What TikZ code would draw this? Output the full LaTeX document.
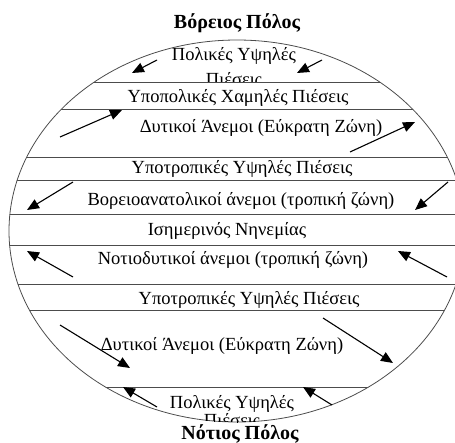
\documentclass[tikz,border=0pt]{standalone}
\usepackage{fontspec}
\setmainfont{Liberation Serif}
\usetikzlibrary{arrows.meta}

\begin{document}
\begin{tikzpicture}[x=1pt,y=-1pt]
            \tikzset{
                zone/.style={font=\fontsize{18.5}{20}\selectfont, inner sep=0pt, anchor=base},
                pole/.style={font=\bfseries\fontsize{20}{22}\selectfont, inner sep=0pt, anchor=base},
                band/.style={draw=black!70, line width=0.8pt},
                wind/.style={-{Triangle[length=12pt,width=10pt]}, line width=1.1pt}
            }
            \useasboundingbox (0,0) rectangle (455,443);
            % globe and zone borders
            \draw[band] (237,231) ellipse [x radius=228, y radius=191];
            \begin{scope}
                \clip (237,231) ellipse [x radius=228, y radius=191];
                \foreach \y in {82,109,157,180,214,245,284,310,387}
                    \draw[band] (0,\y) -- (455,\y);
                \node[zone] (polarSb) at (232,426) {Πιέσεις};
            \end{scope}
            \begin{scope}
                \clip (0,0) rectangle (455,82);
                \node[zone] (polarNb) at (234,86) {Πιέσεις};
            \end{scope}

            % zones
            \node[pole] (northpole) at (237,29) {Βόρειος Πόλος};
            \node[zone] (polarN) at (234,61) {Πολικές Υψηλές};
            \node[zone] (subpolarN) at (238,103) {Υποπολικές Χαμηλές Πιέσεις};
            \node[zone] (westN) at (261,133) {Δυτικοί Άνεμοι (Εύκρατη Ζώνη)};
            \node[zone] (subtropN) at (242,174) {Υποτροπικές Υψηλές Πιέσεις};
            \node[zone] (tradeN) at (241,206) {Βορειοανατολικοί άνεμοι (τροπική ζώνη)};
            \node[zone] (doldrums) at (227,236) {Ισημερινός Νηνεμίας};
            \node[zone] (tradeS) at (233,265) {Νοτιοδυτικοί άνεμοι (τροπική ζώνη)};
            \node[zone] (subtropS) at (249,305) {Υποτροπικές Υψηλές Πιέσεις};
            \node[zone] (westS) at (222,351) {Δυτικοί Άνεμοι (Εύκρατη Ζώνη)};
            \node[zone] (polarS) at (232,408) {Πολικές Υψηλές};
            \node[pole] (southpole) at (240,439) {Νότιος Πόλος};

            % winds
            \coordinate (t1) at (157,60);  \coordinate (h1) at (132,73);
            \coordinate (t2) at (322,60);  \coordinate (h2) at (297,73);
            \coordinate (t3) at (60,137);  \coordinate (h3) at (122,110);
            \coordinate (t4) at (350,152); \coordinate (h4) at (415,122);
            \coordinate (t5) at (73,182);  \coordinate (h5) at (27,210);
            \coordinate (t6) at (448,182); \coordinate (h6) at (415,210);
            \coordinate (t7) at (73,277);  \coordinate (h7) at (27,251);
            \coordinate (t8) at (447,277); \coordinate (h8) at (398,251);
            \coordinate (t9) at (60,325);  \coordinate (h9) at (130,368);
            \coordinate (t10) at (323,318); \coordinate (h10) at (393,363);
            \coordinate (t11) at (157,407); \coordinate (h11) at (123,387);
            \coordinate (t12) at (332,405); \coordinate (h12) at (303,387);
            \foreach \i in {1,...,12}
                \draw[wind] (t\i) -- (h\i);
\end{tikzpicture}
\end{document}
